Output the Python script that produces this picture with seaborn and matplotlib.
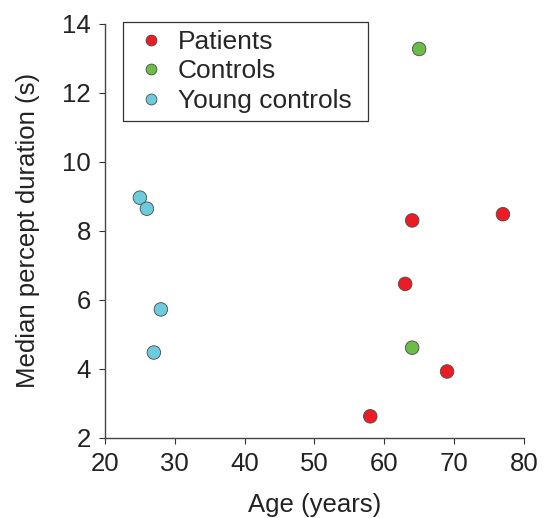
import numpy as np
import pandas as pd
import matplotlib
matplotlib.use("Agg")
import matplotlib.pyplot as plt
import seaborn as sns

# values
patients_age = [58, 63, 64, 69, 77]
patients_dur = [2.62, 6.46, 8.30, 3.92, 8.48]
controls_age = [64, 65]
controls_dur = [4.61, 13.27]
young_age = [25, 26, 27, 28]
young_dur = [8.96, 8.64, 4.47, 5.72]

groups = ['Patients', 'Controls', 'Young controls']
colors = ['#ED1C24', '#6BBD45', '#6CCBDC']

df = pd.concat([
    pd.DataFrame({'age': patients_age, 'dur': patients_dur, 'group': 'Patients'}),
    pd.DataFrame({'age': controls_age, 'dur': controls_dur, 'group': 'Controls'}),
    pd.DataFrame({'age': young_age, 'dur': young_dur, 'group': 'Young controls'}),
])

sns.set_style('ticks')
plt.rcParams['font.family'] = ['Liberation Sans', 'DejaVu Sans']

fs = 18.5
fig = plt.figure(figsize=(5.44, 5.18), dpi=100)
ax = fig.add_axes([0.193, 0.155, 0.770, 0.799])

sns.scatterplot(data=df, x='age', y='dur', hue='group', hue_order=groups,
                palette=colors, s=95, edgecolor='#4a4a4a', linewidth=0.6,
                ax=ax, zorder=3)

ax.set_xlim(20, 80)
ax.set_ylim(2, 14)
ax.set_xticks(np.arange(20, 81, 10))
ax.set_yticks(np.arange(2, 15, 2))
ax.tick_params(labelsize=fs, length=4, width=0.8, pad=6, color='#333333', labelcolor='#222222')
ax.set_xlabel('Age (years)', fontsize=fs, color='#222222', labelpad=12.5)
ax.set_ylabel('Median percept duration (s)', fontsize=fs, color='#222222', labelpad=16)
for side in ['top', 'right']:
    ax.spines[side].set_visible(False)
for side in ['left', 'bottom']:
    ax.spines[side].set_color('#444444')
    ax.spines[side].set_linewidth(1.0)

leg = ax.legend(loc='upper left', bbox_to_anchor=(0.043, 1.005, 0.585, 0),
                mode='expand', fontsize=19, frameon=True, fancybox=False,
                handletextpad=0.3, borderpad=0.32, borderaxespad=0,
                labelspacing=0.2, markerscale=0.8, handlelength=1.45)
leg.get_frame().set_edgecolor('black')
leg.get_frame().set_linewidth(0.9)
for h in leg.legend_handles:
    h.set_markeredgecolor('#4a4a4a')

fig.savefig('out.png', dpi=100)
